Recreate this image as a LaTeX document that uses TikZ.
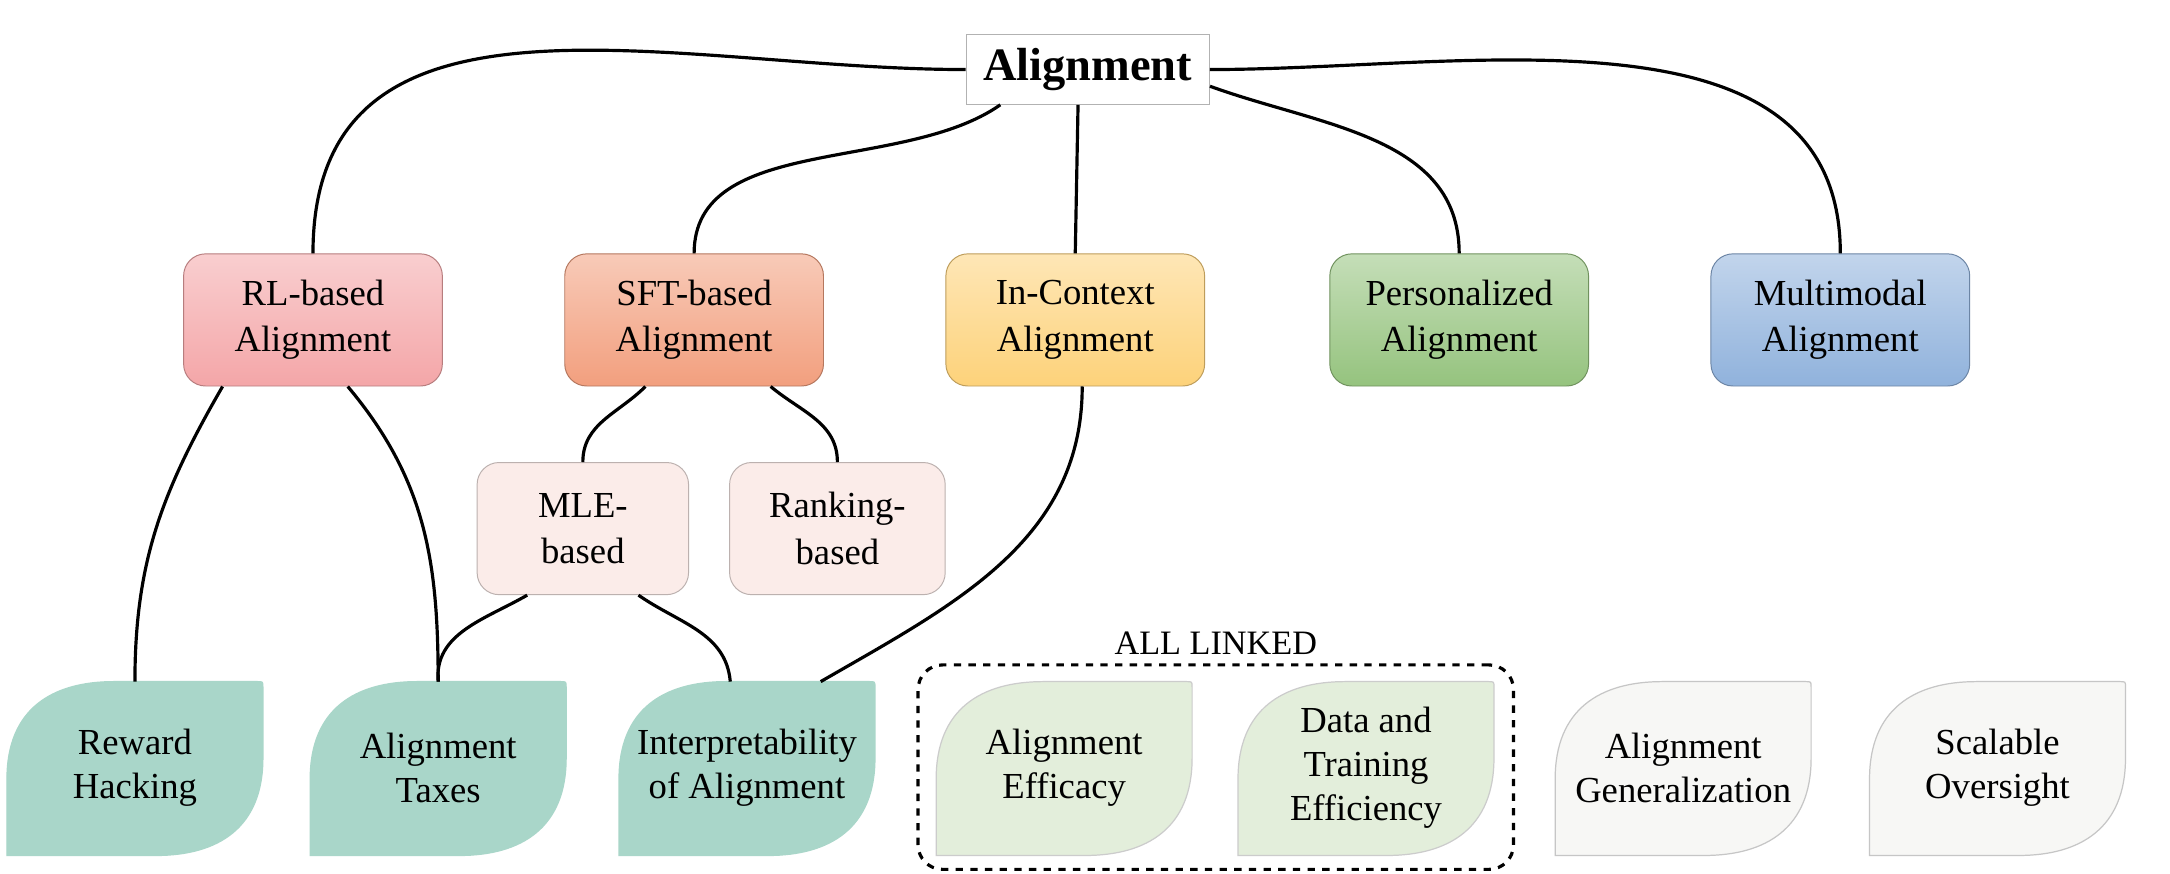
\documentclass[tikz,border=0pt]{standalone}
\usepackage{fontspec}
\setmainfont{Liberation Serif}
\begin{document}
\begin{tikzpicture}[x=0.02cm,y=-0.02cm,
  box/.style={rounded corners=9pt,align=center,font=\fontsize{15}{19}\selectfont,inner sep=0pt,draw=#1!75!black,line width=0.4pt},
  lf/.style={align=center,font=\fontsize{15}{18}\selectfont,inner sep=0pt},
  con/.style={line width=1.3pt,black}]
\useasboundingbox (0,0) rectangle (1560,628);
\fill[white] (0,0) rectangle (1560,628);
\definecolor{cRL}{HTML}{F4A6A8}\definecolor{cSFT}{HTML}{F29F7E}
\definecolor{cIC}{HTML}{FDD27A}\definecolor{cPA}{HTML}{95C37E}
\definecolor{cMM}{HTML}{90B2DC}\definecolor{cLo}{HTML}{FBECE9}
\definecolor{cTe}{HTML}{A9D6C9}\definecolor{cLg}{HTML}{E3EEDB}
\definecolor{cWh}{HTML}{F7F7F5}
% top
\node[draw=gray!60,fill=white,minimum width=175*0.02cm,minimum height=50*0.02cm,font=\bfseries\fontsize{19}{22}\selectfont,inner sep=0pt] (root) at (782,50) {Alignment};
% row 2
\foreach \n/\x/\c/\t in {rl/225/cRL/RL-based\\Alignment, sft/499/cSFT/SFT-based\\Alignment, ic/773/cIC/In-Context\\Alignment, pa/1049/cPA/Personalized\\Alignment, mm/1323/cMM/Multimodal\\Alignment}
  \node[box=\c,top color=\c!55,bottom color=\c,minimum width=186*0.02cm,minimum height=95*0.02cm] (\n) at (\x,230) {\t};
\node[box=cLo,fill=cLo,minimum width=152*0.02cm,minimum height=95*0.02cm] (mle) at (419,380) {MLE-\\based};
\node[box=cLo,fill=cLo,minimum width=155*0.02cm,minimum height=95*0.02cm] (rk) at (602,380) {Ranking-\\based};
% bottom leaves
\foreach \n/\x/\c/\d/\t in {rh/97/cTe/cTe/Reward\\Hacking, at/315/cTe/cTe/Alignment\\Taxes, ia/537/cTe/cTe/Interpretability\\of Alignment, ae/765/cLg/gray!40/Alignment\\Efficacy, dt/982/cLg/gray!40/Data and\\Training\\Efficiency, ag/1210/cWh/gray!45/Alignment\\Generalization, so/1436/cWh/gray!45/Scalable\\Oversight}{
  \path (\x-92,490) coordinate (\n nw) (\x+92,615) coordinate (\n se);
  \filldraw[fill=\c,draw=\d,line width=0.5pt] (\x-92,615) -- (\x-92,560) .. controls (\x-92,510) and (\x-60,490) .. (\x-15,490) -- (\x+88,490) .. controls (\x+92,490) .. (\x+92,494) -- (\x+92,545) .. controls (\x+92,595) and (\x+60,615) .. (\x+15,615) -- cycle;
  \node[lf] (\n) at (\x,552) {\t};}
% dashed group
\node[draw,dashed,line width=1.3pt,rounded corners=10pt,minimum width=428*0.02cm,minimum height=147*0.02cm] (grp) at (874,551.5) {};
\node[font=\fontsize{14}{16}\selectfont,anchor=south] (lbl) at (grp.north) {ALL LINKED};
% connectors
\draw[con] (root.west) to[out=180,in=90,looseness=1.1] (rl.north);
\draw[con] ([xshift=25*0.02cm]root.south west) to[out=215,in=90,looseness=0.9] (sft.north);
\draw[con] ([xshift=-7*0.02cm]root.south) -- (ic.north);
\draw[con] ([yshift=-12*0.02cm]root.east) to[out=-20,in=90] (pa.north);
\draw[con] (root.east) to[out=0,in=90] (mm.north);
\draw[con] ([xshift=-65*0.02cm]rl.south) to[out=-120,in=90] (rh.north |- rhnw);
\draw[con] ([xshift=25*0.02cm]rl.south) to[out=-50,in=90] (at.north |- atnw);
\draw[con] ([xshift=-35*0.02cm]sft.south) to[out=-135,in=90] (mle.north);
\draw[con] ([xshift=55*0.02cm]sft.south) to[out=-40,in=90] (rk.north);
\draw[con] ([xshift=-40*0.02cm]mle.south) to[out=-150,in=95] (at.north |- atnw);
\draw[con] ([xshift=40*0.02cm]mle.south) to[out=-35,in=95] ([xshift=-12*0.02cm]ia.north |- ianw);
\draw[con] ([xshift=5*0.02cm]ic.south) to[out=-90,in=30] ([xshift=53*0.02cm]ia.north |- ianw);
\end{tikzpicture}
\end{document}
